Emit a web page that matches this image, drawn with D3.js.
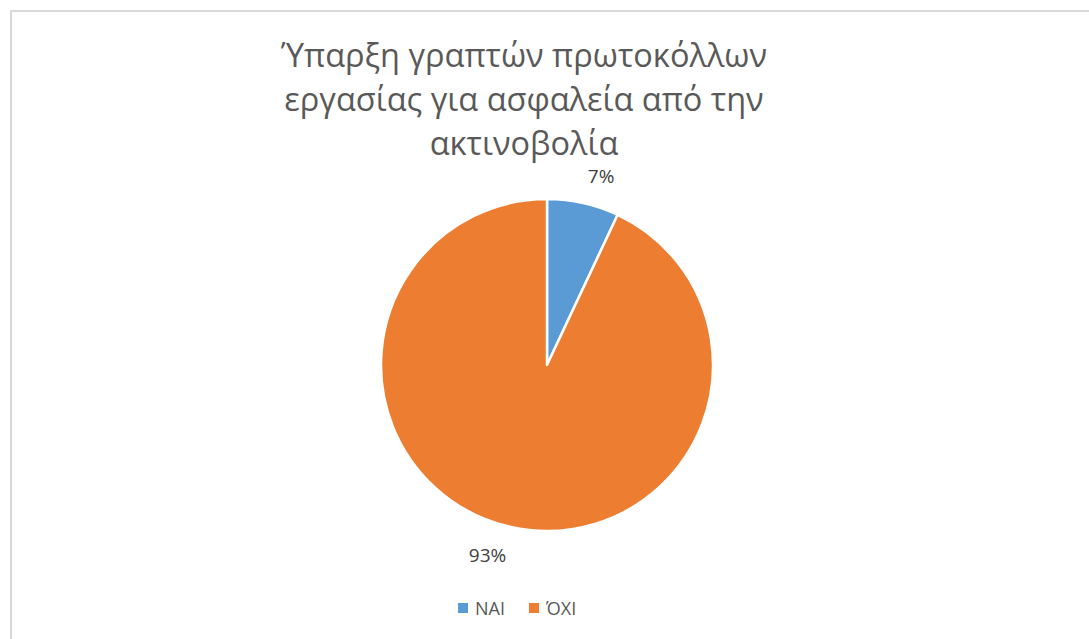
<!DOCTYPE html>
<html>
<head>
<meta charset="utf-8">
<script src="https://cdn.jsdelivr.net/npm/d3@7"></script>
<style>
  html, body { margin: 0; padding: 0; background: #fff; }
  svg { display: block; font-family: "Open Sans", "Noto Sans", sans-serif; }
</style>
</head>
<body>
<svg id="chart" width="1089" height="639"></svg>
<script>
// Answers and their share (%)
const categories = ["ΝΑΙ", "ΌΧΙ"];
const values = [7, 93];
const colors = ["#5b9bd5", "#ed7d31"];
const titleLines = ["Ύπαρξη γραπτών πρωτοκόλλων", "εργασίας για ασφαλεία από την", "ακτινοβολία"];

const svg = d3.select("#chart");
const W = 1089, H = 639;

// chart frame
svg.append("rect")
  .attr("x", 11).attr("y", 11)
  .attr("width", W + 10).attr("height", H + 10)
  .attr("fill", "#fff").attr("stroke", "#d9d9d9").attr("stroke-width", 2);

// title
svg.append("text")
  .attr("text-anchor", "middle")
  .attr("fill", "#595959")
  .attr("font-size", 32.5)
  .selectAll("tspan")
  .data(titleLines)
  .join("tspan")
  .attr("x", 524)
  .attr("y", (d, i) => 67 + i * 44)
  .text(d => d);

// pie
const cx = 547, cy = 365, r = 166;
const pie = d3.pie().sort(null).value(d => d.value);
const arcs = pie(categories.map((c, i) => ({ name: c, value: values[i], color: colors[i] })));
const arc = d3.arc().innerRadius(0).outerRadius(r);

const g = svg.append("g").attr("transform", `translate(${cx},${cy})`);
g.selectAll("path")
  .data(arcs)
  .join("path")
  .attr("d", arc)
  .attr("fill", d => d.data.color)
  .attr("stroke", "#fff")
  .attr("stroke-width", 2.5)
  .attr("stroke-linejoin", "round");

// percentage labels: nearest corner of each label touches a point just outside the rim
const labelArc = d3.arc().innerRadius(r + 21).outerRadius(r + 21);
g.selectAll("text.pct")
  .data(arcs)
  .join("text")
  .attr("class", "pct")
  .attr("fill", "#404040")
  .attr("font-size", 19)
  .attr("text-anchor", d => labelArc.centroid(d)[0] >= 0 ? "start" : "end")
  .attr("x", d => labelArc.centroid(d)[0])
  .attr("y", d => {
    const y = labelArc.centroid(d)[1];
    return y < 0 ? y : y + 15;
  })
  .text(d => d.data.value + "%");

// legend
const legend = svg.append("g").attr("transform", "translate(458, 608)");
const items = legend.selectAll("g")
  .data(categories)
  .join("g")
  .attr("transform", (d, i) => `translate(${i * 71},0)`);
items.append("rect")
  .attr("x", 0).attr("y", -5)
  .attr("width", 10).attr("height", 10)
  .attr("fill", (d, i) => colors[i]);
items.append("text")
  .attr("x", 17).attr("y", 7)
  .attr("fill", "#595959")
  .attr("font-size", 18)
  .text(d => d);
</script>
</body>
</html>
